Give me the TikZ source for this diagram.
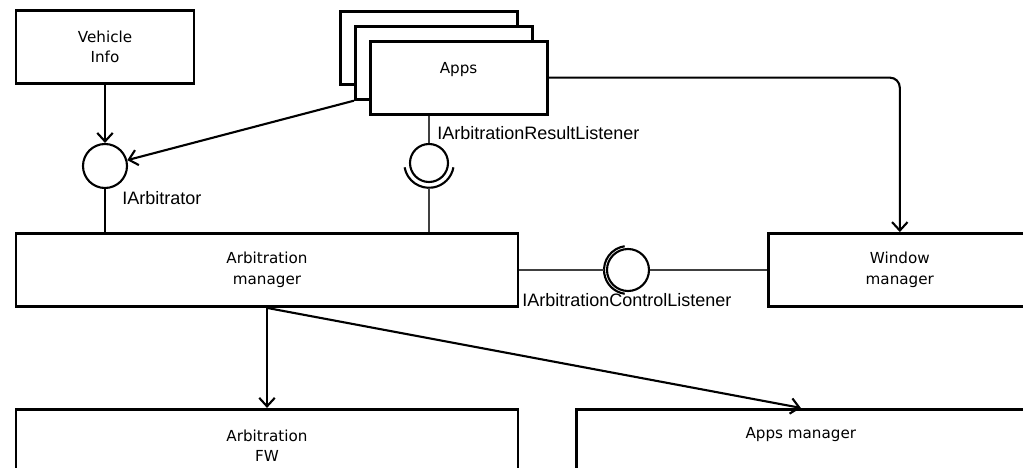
\documentclass[tikz,border=0pt]{standalone}
\usepackage{fontspec}
\setmainfont{DejaVu Sans}
\newfontfamily\ifacefont{Liberation Sans}
\usetikzlibrary{positioning}
\usetikzlibrary{arrows.meta}

\begin{document}
\begin{tikzpicture}[>={Straight Barb[length=6pt,width=11pt]}]
    \tikzset{block/.style= {draw, line width=2pt, rectangle, fill=white, align=center, minimum height=1.825cm, font=\fontsize{10.8pt}{14.5pt}\selectfont},
             ball/.style= {draw, circle, line width=1.5pt, inner sep=0pt},
             socket/.style= {draw, line width=1.5pt},
             iface/.style= {anchor=west, inner sep=0pt, font=\ifacefont\fontsize{12.8pt}{14pt}\selectfont},
             wire/.style= {draw, line width=0.9pt, black!75},
             flow/.style= {draw, line width=1.5pt, ->},}

    \useasboundingbox (0,0) rectangle (25.575,-11.7);
    \clip (0,0) rectangle (25.575,-11.7);

    \node [block, minimum width=4.45cm] (vinfo) at (2.625,-1.175) {Vehicle\\Info};
    \node [block, minimum width=4.425cm] (apps3) at (10.725,-1.2) {};
    \node [block, minimum width=4.425cm] (apps2) at ([shift={(0.37,-0.37)}]apps3) {};
    \node [block, minimum width=4.425cm] (apps) at ([shift={(0.37,-0.37)}]apps2) {Apps\\[-5pt]\strut};
    \node [block, minimum width=12.55cm] (arbmgr) at (6.675,-6.75) {Arbitration\\manager};
    \node [block, minimum width=6.55cm, right =6.2cm of arbmgr] (winmgr) {Window\\manager};
    \node [block, minimum width=12.55cm, below =2.5cm of arbmgr] (arbfw) {Arbitration\\FW};
    \node [block, minimum width=11.2cm, right =1.4cm of arbfw] (appsmgr) {Apps manager\\\strut};

    \node [ball, minimum size=1.1cm] (iarb) at (2.625,-4.15) {};
    \node [ball, minimum size=0.95cm] (resl) at (10.725,-4.075) {};
    \node [ball, minimum size=1.05cm] (ctrl) at (15.7,-6.75) {};

    \node [iface] (lblres) at (10.925,-3.325) {IArbitrationResultListener};
    \node [iface] (lblarb) at (3.05,-4.95) {IArbitrator};
    \node [iface] (lblctrl) at (13.05,-7.5) {IArbitrationControlListener};

    \path[socket] ([shift={(190:0.62cm)}]resl.center) arc[start angle=190, end angle=350, radius=0.62cm];
    \path[socket] ([shift={(98:0.6cm)}]ctrl.center) arc[start angle=98, end angle=262, radius=0.6cm];

    \path[draw, line width=1.5pt] (iarb.south) -- (iarb.south |- arbmgr.north);
    \path[wire] (resl.north) -- (resl.north |- apps.south);
    \path[wire] ([yshift=-0.62cm]resl.center) -- (resl.center |- arbmgr.north);
    \path[wire] (arbmgr.east) -- ([xshift=-0.6cm]ctrl.center);
    \path[wire] (ctrl.east) -- (winmgr.west);

    \path
                (vinfo) edge[flow] (iarb)
                (apps2.south west) edge[flow] (iarb)
                (arbmgr.south) edge[flow] (arbfw.north)
                (arbmgr.south) edge[flow] (appsmgr.north)
                ;
    \draw[flow, rounded corners=0.25cm] (apps.east) -| (winmgr.north);
\end{tikzpicture}
\end{document}
